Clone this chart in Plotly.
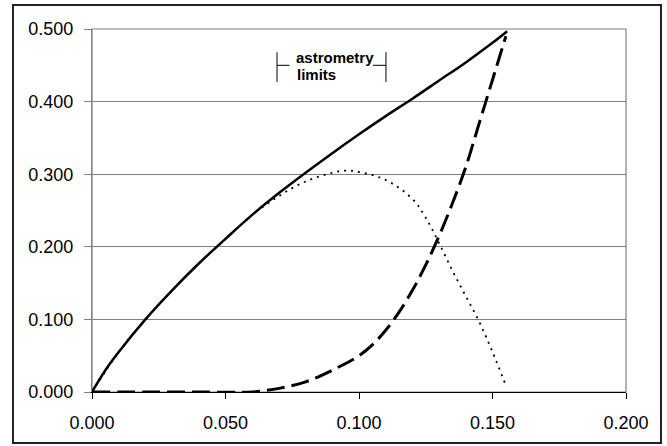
import plotly.graph_objects as go

# ---- data ----
x_solid = [0.0, 0.005, 0.01, 0.02, 0.03, 0.04, 0.05, 0.06, 0.07, 0.08, 0.09, 0.10,
           0.11, 0.12, 0.13, 0.14, 0.15, 0.1555]
y_solid = [0.0, 0.03, 0.055, 0.10, 0.14, 0.177, 0.211, 0.244, 0.274, 0.302, 0.329, 0.355,
           0.380, 0.404, 0.429, 0.454, 0.481, 0.497]

x_dotted = [0.0, 0.01, 0.02, 0.03, 0.04, 0.05, 0.06, 0.07, 0.08, 0.09, 0.095, 0.10,
            0.11, 0.12, 0.125, 0.13, 0.135, 0.14, 0.145, 0.15, 0.155]
y_dotted = [0.0, 0.055, 0.10, 0.14, 0.177, 0.211, 0.244, 0.270, 0.290, 0.302, 0.305, 0.303,
            0.292, 0.266, 0.24, 0.205, 0.167, 0.132, 0.097, 0.055, 0.009]

x_dashed = [0.0, 0.02, 0.04, 0.06, 0.065, 0.07, 0.08, 0.09, 0.10, 0.105, 0.11, 0.115,
            0.12, 0.125, 0.13, 0.135, 0.14, 0.145, 0.15, 0.155]
y_dashed = [0.0, 0.0, 0.0, 0.0, 0.002, 0.005, 0.014, 0.03, 0.05, 0.065, 0.085, 0.11,
            0.14, 0.175, 0.215, 0.26, 0.31, 0.37, 0.43, 0.49]

astrometry_limits = [0.0693, 0.1101]
limits_level = 0.450
label_lines = ["astrometry", "limits"]

x_ticks = [0.0, 0.05, 0.10, 0.15, 0.20]
x_ticklabels = ["0.000", "0.050", "0.100", "0.150", "0.200"]
y_ticks = [0.0, 0.1, 0.2, 0.3, 0.4, 0.5]
y_ticklabels = ["0.000", "0.100", "0.200", "0.300", "0.400", "0.500"]

FONT = "Liberation Sans, Arial, sans-serif"
GRAY = "#808080"

fig = go.Figure()
fig.add_trace(go.Scatter(x=x_dotted, y=y_dotted, mode="lines",
                         line=dict(color="black", width=1.8, dash="2px,5px", shape="spline"),
                         showlegend=False, hoverinfo="skip"))
fig.add_trace(go.Scatter(x=x_dashed, y=y_dashed, mode="lines",
                         line=dict(color="black", width=3, dash="18px,7px", shape="spline"),
                         showlegend=False, hoverinfo="skip"))
fig.add_trace(go.Scatter(x=x_solid, y=y_solid, mode="lines",
                         line=dict(color="black", width=2.5, shape="spline"),
                         showlegend=False, hoverinfo="skip"))

shapes = []
# plot-area border (gray)
shapes.append(dict(type="rect", xref="paper", yref="paper", x0=0, x1=1, y0=0, y1=1,
                   line=dict(color=GRAY, width=1.2), layer="below"))
# outer chart border
shapes.append(dict(type="rect", xref="paper", yref="paper", x0=-0.148, x1=1.0655,
                   y0=-0.1405, y1=1.066, line=dict(color="#222222", width=2)))
# astrometry limits bracket
lo, hi = astrometry_limits
for xv in (lo, hi):
    shapes.append(dict(type="line", xref="x", yref="y", x0=xv, x1=xv,
                       y0=limits_level - 0.023, y1=limits_level + 0.018,
                       line=dict(color="black", width=1)))
shapes.append(dict(type="line", xref="x", yref="y", x0=lo, x1=lo + 0.0047,
                   y0=limits_level, y1=limits_level, line=dict(color="black", width=1)))
shapes.append(dict(type="line", xref="x", yref="y", x0=hi - 0.0049, x1=hi,
                   y0=limits_level, y1=limits_level, line=dict(color="black", width=1)))

annotations = [
    dict(x=0.0755, y=0.461, xref="x", yref="y", text="<b>" + label_lines[0] + "</b>",
         showarrow=False, xanchor="left", yanchor="middle",
         font=dict(family=FONT, size=15, color="black")),
    dict(x=0.0760, y=0.437, xref="x", yref="y", text="<b>" + label_lines[1] + "</b>",
         showarrow=False, xanchor="left", yanchor="middle",
         font=dict(family=FONT, size=15, color="black")),
]

fig.update_layout(
    width=667, height=446,
    margin=dict(l=92, r=41, t=29, b=54, pad=0),
    paper_bgcolor="white", plot_bgcolor="white",
    font=dict(family=FONT, size=18, color="black"),
    shapes=shapes, annotations=annotations,
    xaxis=dict(range=[0, 0.2], tickvals=x_ticks, ticktext=x_ticklabels,
               showgrid=False, zeroline=False, showline=True, linecolor="black",
               linewidth=1.2, ticks="outside", ticklen=6, tickcolor="black",
               ticklabelstandoff=8, fixedrange=True),
    yaxis=dict(range=[0, 0.5], tickvals=y_ticks, ticktext=y_ticklabels,
               showgrid=True, gridcolor=GRAY, gridwidth=1.2, zeroline=False,
               showline=True, linecolor=GRAY, linewidth=1.2, ticks="outside",
               ticklen=7, tickcolor=GRAY, ticklabelstandoff=7, fixedrange=True),
)

fig.write_html("out.html", config={"displayModeBar": False, "staticPlot": True},
               post_script="document.body.style.margin='0';document.body.style.overflow='hidden';")
